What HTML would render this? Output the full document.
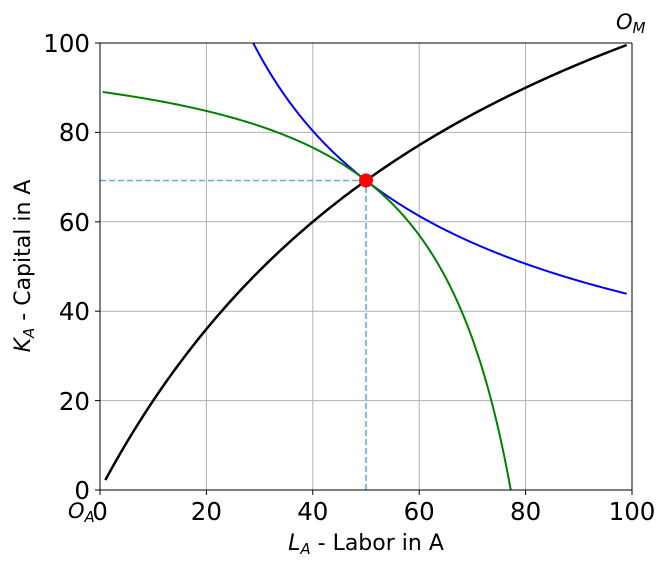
<!DOCTYPE html>
<html><head><meta charset="utf-8"><style>
html,body{margin:0;padding:0;background:#fff;overflow:hidden;width:666px;height:565px;}
svg{display:block;font-family:"DejaVu Sans","Liberation Sans",sans-serif;}
</style></head><body>
<svg id="s" width="666" height="565" viewBox="0 0 666 565" xmlns="http://www.w3.org/2000/svg">
<rect width="666" height="565" fill="#fff"/>
<g stroke="#b0b0b0" stroke-width="1">
<line x1="100" y1="43" x2="100" y2="490"/><line x1="206.4" y1="43" x2="206.4" y2="490"/>
<line x1="312.8" y1="43" x2="312.8" y2="490"/><line x1="419.2" y1="43" x2="419.2" y2="490"/>
<line x1="525.6" y1="43" x2="525.6" y2="490"/><line x1="632" y1="43" x2="632" y2="490"/>
<line x1="100" y1="43" x2="632" y2="43"/><line x1="100" y1="132.4" x2="632" y2="132.4"/>
<line x1="100" y1="221.8" x2="632" y2="221.8"/><line x1="100" y1="311.2" x2="632" y2="311.2"/>
<line x1="100" y1="400.6" x2="632" y2="400.6"/><line x1="100" y1="490" x2="632" y2="490"/>
</g>
<defs><clipPath id="c"><rect x="100" y="43" width="532" height="447"/></clipPath></defs>
<g clip-path="url(#c)" fill="none">
<path id="blue" stroke="#0000ff" stroke-width="2"/>
<path id="green" stroke="#008000" stroke-width="2"/>
<path id="black" stroke="#000" stroke-width="2.5"/>
</g>
<g stroke="#5aaee0" stroke-width="1.6" stroke-dasharray="6,3">
<line x1="100" y1="180.5" x2="366" y2="180.5"/>
<line x1="366" y1="490" x2="366" y2="180.5"/>
</g>
<circle cx="366" cy="180.5" r="7" fill="#ff0000"/>
<g stroke="#000" stroke-width="1" fill="none">
<line x1="100" y1="43" x2="100" y2="490"/><line x1="100" y1="490" x2="632" y2="490"/>
<line x1="632" y1="43" x2="632" y2="490"/><line x1="100" y1="43" x2="632" y2="43"/>
</g>
<g stroke="#000" stroke-width="1">
<line x1="100" y1="490" x2="100" y2="495"/><line x1="206.4" y1="490" x2="206.4" y2="495"/>
<line x1="312.8" y1="490" x2="312.8" y2="495"/><line x1="419.2" y1="490" x2="419.2" y2="495"/>
<line x1="525.6" y1="490" x2="525.6" y2="495"/><line x1="632" y1="490" x2="632" y2="495"/>
<line x1="95" y1="43" x2="100" y2="43"/><line x1="95" y1="132.4" x2="100" y2="132.4"/>
<line x1="95" y1="221.8" x2="100" y2="221.8"/><line x1="95" y1="311.2" x2="100" y2="311.2"/>
<line x1="95" y1="400.6" x2="100" y2="400.6"/><line x1="95" y1="490" x2="100" y2="490"/>
</g>
<g font-size="24.5" fill="#000" text-anchor="end">
<text x="90" y="52">100</text><text x="90" y="141">80</text><text x="90" y="231">60</text>
<text x="90" y="320">40</text><text x="90" y="410">20</text><text x="90" y="499">0</text>
</g>
<g font-size="24.5" fill="#000" text-anchor="middle">
<text x="100" y="520">0</text><text x="206.4" y="520">20</text><text x="312.8" y="520">40</text>
<text x="419.2" y="520">60</text><text x="525.6" y="520">80</text><text x="632" y="520">100</text>
</g>
<text x="68" y="518" font-size="21" font-style="italic">O<tspan font-size="15" dy="4">A</tspan></text>
<text x="616" y="29" font-size="21" font-style="italic">O<tspan font-size="15" dy="4">M</tspan></text>
<text x="366" y="550" font-size="22" text-anchor="middle"><tspan font-style="italic">L</tspan><tspan font-size="15" font-style="italic" dy="4">A</tspan><tspan dy="-4"> - Labor in A</tspan></text>
<text transform="translate(30,266) rotate(-90)" font-size="22" text-anchor="middle"><tspan font-style="italic">K</tspan><tspan font-size="15" font-style="italic" dy="4">A</tspan><tspan dy="-4"> - Capital in A</tspan></text>
<script>
function X(l){return 100+l*5.32;}function Y(k){return 490-k*4.47;}
var b="",g="",k="";
for(var i=0;i<=394;i++){var L=0.5+i*0.25;
var kb=939.6*Math.pow(L,-2/3);b+=(i?"L":"M")+X(L).toFixed(2)+" "+Y(Math.min(kb,150)).toFixed(2);
var lm=100-L;var km=30.77*Math.pow(50/Math.max(lm,1),1.5);var kg=100-km;if(kg<-50)kg=-50;g+=(i?"L":"M")+X(L).toFixed(2)+" "+Y(kg).toFixed(2);}
for(var i=0;i<=200;i++){var L=1+i*0.49;var kk=225*L/(100+1.25*L);k+=(i?"L":"M")+X(L).toFixed(2)+" "+Y(kk).toFixed(2);}
document.getElementById("blue").setAttribute("d",b);
document.getElementById("green").setAttribute("d",g);
document.getElementById("black").setAttribute("d",k);
</script>
</svg>
</body></html>
